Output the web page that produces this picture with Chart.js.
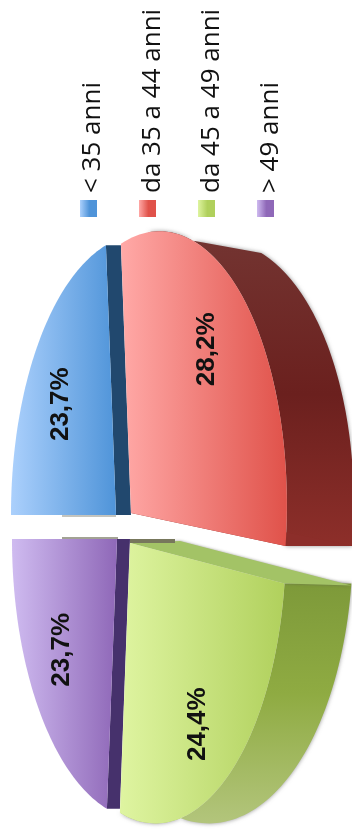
<!DOCTYPE html>
<html>
<head>
<meta charset="utf-8">
<style>
    html, body { margin: 0; padding: 0; background: #fff; }
    #chart { display: block; filter: blur(0.5px); }
</style>
<script src="https://cdn.jsdelivr.net/npm/chart.js@4"></script>
</head>
<body>
<canvas id="chart" width="352" height="840"></canvas>
<script>
const categories = ['< 35 anni', 'da 35 a 44 anni', 'da 45 a 49 anni', '> 49 anni'];
const shares = [23.7, 28.2, 24.4, 23.7];

// face gradient stops (light side, saturated side)
const faceColors = [['#abd0fc', '#4f94d9'], ['#ffa8a6', '#e0524a'], ['#def4a0', '#b0d05c'], ['#cfbbf0', '#8f68b8']];
const sideColors = [['#21486e', '#21486e'], ['#733431', '#6b201e', '#8e2f2a'], ['#7a9638', '#8fab42', '#b4c67e'], ['#46316c', '#46316c']];
const cutColors = ['#21486e', '#8c2e2a', '#a3c366', '#46316c'];

// the pie is seen in perspective: unit circle -> page
const pieCenter = [124, 528];
const sliceOffset = [[-8, -13], [7, -15], [6, 15], [-7, 11]];
const sliceShear = [0, -0.05, 0, 0];
const persp = { a: 125.5, b: 275, g: -0.195 };
const labelRadius = [0.65, 0.75, 0.77, 0.65];

// depth of the extruded part per slice
const cutDepth = [[15, 0], [67, 0], [67, 2], [13, 0]];
const cutAngleIsEnd = [true, true, false, false];
const backDrop = [0, 12, 0, 0];
const rimStart = [[0, 0], [0.12, 0.35], [0, 0], [0, 0]]; // front, back
const legendBaseline = [100, 160, 219, 278];
const legendSwatch = [80, 139, 198, 257];

function project(i, x, y) {
    const den = 1 + persp.g * x;
    const px = persp.a * x / den;
    return [
        pieCenter[0] + sliceOffset[i][0] + px,
        pieCenter[1] + sliceOffset[i][1] + persp.b * y / den + sliceShear[i] * px
    ];
}

// same point on the back plane of the disc
function projectBack(i, x, y) {
    const p = project(i, x, y);
    return [p[0] + 50 + 17 * x, p[1] + backDrop[i] * (1 - x)];
}

function arcPoint(i, arc, t, fn) {
    const a = arc.startAngle + (arc.endAngle - arc.startAngle) * t;
    return fn(i, Math.cos(a), Math.sin(a));
}

function slicePath(ctx, i, arc) {
    const steps = 60;
    const c = project(i, 0, 0);
    ctx.beginPath();
    ctx.moveTo(c[0], c[1]);
    for (let s = 0; s <= steps; s++) {
        const p = arcPoint(i, arc, s / steps, project);
        ctx.lineTo(p[0], p[1]);
    }
    ctx.closePath();
}

// band between the front and the back edge of the disc
function rimPath(ctx, i, arc) {
    const steps = 60;
    const from = rimStart[i];
    ctx.beginPath();
    for (let s = 0; s <= steps; s++) {
        const p = arcPoint(i, arc, from[0] + (1 - from[0]) * s / steps, project);
        if (s === 0) ctx.moveTo(p[0], p[1]);
        else ctx.lineTo(p[0], p[1]);
    }
    for (let s = steps; s >= 0; s--) {
        const p = arcPoint(i, arc, from[1] + (1 - from[1]) * s / steps, projectBack);
        ctx.lineTo(p[0], p[1]);
    }
    ctx.closePath();
}

function drawCut(ctx, i, arc) {
    const a = cutAngleIsEnd[i] ? arc.endAngle : arc.startAngle;
    const c = project(i, 0, 0);
    const p = project(i, Math.cos(a), Math.sin(a));
    const d = cutDepth[i];
    let back = [c[0] + d[0], c[1] + d[1]];
    if (i === 1 || i === 2) back = [c[0] + 50, c[1] - 2];
    ctx.save();
    if (i === 2) {
        ctx.shadowColor = 'rgba(90,90,80,0.6)';
        ctx.shadowBlur = 3;
    }
    ctx.beginPath();
    ctx.moveTo(c[0], c[1]);
    ctx.lineTo(p[0], p[1]);
    ctx.lineTo(p[0] + d[0], p[1] + d[1]);
    ctx.lineTo(back[0], back[1]);
    ctx.closePath();
    ctx.fillStyle = cutColors[i];
    ctx.fill();
    ctx.restore();
}

function drawSlices(chart) {
    const ctx = chart.ctx;
    const arcs = chart.getDatasetMeta(0).data;

    ctx.save();
    // rims of the two near slices
    [1, 2].forEach(i => {
        const top = project(i, 0, -1)[1];
        const bottom = project(i, 0, 1)[1];
        const grad = ctx.createLinearGradient(0, i === 1 ? top : 560, 0, i === 1 ? 550 : bottom + 10);
        sideColors[i].forEach((col, k) => grad.addColorStop(k / 2, col));
        ctx.save();
        ctx.shadowColor = 'rgba(60,60,60,0.55)';
        ctx.shadowBlur = 4;
        rimPath(ctx, i, arcs[i]);
        ctx.fillStyle = grad;
        ctx.fill();
        ctx.restore();
    });

    // thin shadows either side of the gap
    ctx.fillStyle = '#c4c4be';
    ctx.fillRect(62, 515, 54, 2);
    ctx.fillStyle = '#a2a294';
    ctx.fillRect(62, 537, 56, 2);

    arcs.forEach((arc, i) => drawCut(ctx, i, arc));

    ctx.fillStyle = '#77775c';
    ctx.fillRect(130, 539, 45, 4);

    // top faces
    arcs.forEach((arc, i) => {
        const c = project(i, 0, 0);
        const right = project(i, 1, 0)[0];
        const left = i === 0 || i === 3 ? project(i, -1, 0)[0] : c[0] - 8;
        const far = i === 0 || i === 3 ? c[0] : right;
        const grad = ctx.createLinearGradient(left, 0, far, 0);
        grad.addColorStop(0, faceColors[i][0]);
        grad.addColorStop(1, faceColors[i][1]);
        slicePath(ctx, i, arc);
        ctx.fillStyle = grad;
        ctx.fill();
    });

    // percent labels
    ctx.fillStyle = '#111';
    ctx.font = 'bold 26px "Liberation Sans"';
    ctx.textAlign = 'center';
    ctx.textBaseline = 'middle';
    arcs.forEach((arc, i) => {
        const mid = (arc.startAngle + arc.endAngle) / 2;
        const p = project(i, labelRadius[i] * Math.cos(mid), labelRadius[i] * Math.sin(mid));
        ctx.save();
        ctx.translate(p[0], p[1]);
        ctx.rotate(-Math.PI / 2);
        ctx.fillText(shares[i].toFixed(1).replace('.', ',') + '%', 0, 0);
        ctx.restore();
    });
    ctx.restore();
}

function drawLegend(chart) {
    const ctx = chart.ctx;
    ctx.save();
    categories.forEach((name, i) => {
        const x = legendSwatch[i];
        const grad = ctx.createLinearGradient(x, 0, x + 17, 0);
        grad.addColorStop(0, faceColors[i][0]);
        grad.addColorStop(0.55, faceColors[i][1]);
        grad.addColorStop(1, faceColors[i][1]);
        ctx.fillStyle = grad;
        ctx.fillRect(x, 200, 17, 17);

        ctx.save();
        ctx.translate(legendBaseline[i], 193);
        ctx.rotate(-Math.PI / 2);
        ctx.fillStyle = '#111';
        ctx.font = '26px "Open Sans"';
        ctx.textAlign = 'left';
        ctx.textBaseline = 'alphabetic';
        ctx.fillText(name, 0, 0);
        ctx.restore();
    });
    ctx.restore();
}

const pie3d = {
    id: 'pie3d',
    beforeDatasetsDraw(chart) {
        drawSlices(chart);
        drawLegend(chart);
        return false; // slices are painted above, skip the flat pie
    }
};

new Chart(document.getElementById('chart'), {
    type: 'pie',
    data: {
        labels: categories,
        datasets: [{ data: shares, backgroundColor: faceColors.map(c => c[1]), borderWidth: 0 }]
    },
    options: {
        responsive: false,
        animation: false,
        rotation: 270,
        plugins: { legend: { display: false }, tooltip: { enabled: false } }
    },
    plugins: [pie3d]
});
</script>
</body>
</html>
